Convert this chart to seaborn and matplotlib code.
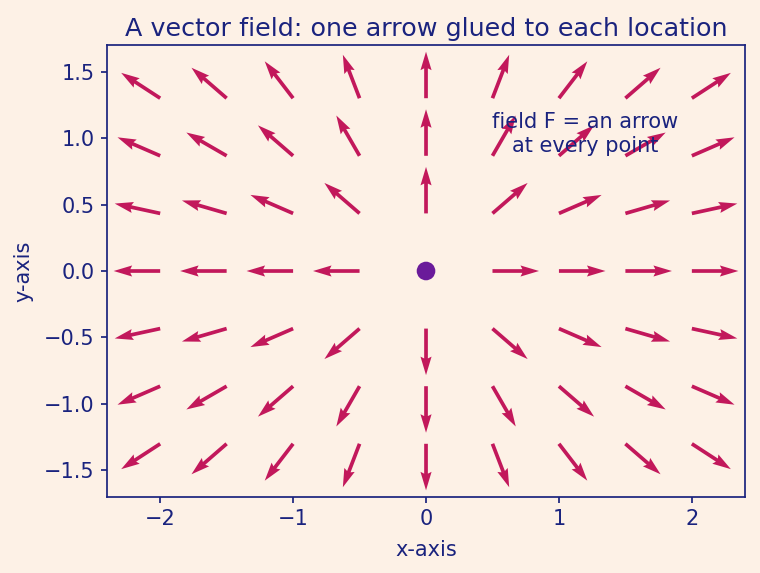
import numpy as np
import seaborn as sns
import matplotlib
matplotlib.use("Agg")
import matplotlib.pyplot as plt

# grid locations where arrows are attached
x_vals = [-2.0, -1.5, -1.0, -0.5, 0.0, 0.5, 1.0, 1.5, 2.0]
y_vals = [-1.3, -0.8667, -0.4333, 0.0, 0.4333, 0.8667, 1.3]
arrow_len = 0.35

bg = "#fdf1e6"
navy = "#1a237e"
crimson = "#c2185b"
purple = "#6a1b9a"

sns.set_theme(style="white", rc={
    "axes.facecolor": bg,
    "figure.facecolor": bg,
    "axes.edgecolor": navy,
    "axes.labelcolor": navy,
    "xtick.color": navy,
    "ytick.color": navy,
    "text.color": navy,
})
plt.rcParams["font.family"] = ["DejaVu Sans"]

X, Y = np.meshgrid(x_vals, y_vals)
R = np.hypot(X, Y)
mask = R > 0
Xp, Yp = X[mask], Y[mask]
U = Xp / R[mask] * arrow_len
V = Yp / R[mask] * arrow_len

fig, ax = plt.subplots(figsize=(6.08, 4.584), dpi=125)
ax.quiver(Xp, Yp, U, V, angles="xy", scale_units="xy", scale=1,
          color=crimson, width=0.0058, zorder=2)
sns.scatterplot(x=[0.0], y=[0.0], color=purple, s=115, edgecolor="none",
                ax=ax, zorder=3)

ax.text(1.2, 1.03, "field F = an arrow\nat every point", ha="center",
        va="center", fontsize=12, color=navy, zorder=4)

ax.set_xlim(-2.4, 2.4)
ax.set_ylim(-1.7, 1.7)
ax.set_aspect("equal")
ax.set_xticks([-2, -1, 0, 1, 2])
ax.set_yticks([-1.5, -1.0, -0.5, 0.0, 0.5, 1.0, 1.5])
ax.tick_params(axis="both", labelsize=12, length=3.5, width=1,
               bottom=True, left=True)
for sp in ax.spines.values():
    sp.set_linewidth(1)
ax.set_xlabel("x-axis", fontsize=12, labelpad=6)
ax.set_ylabel("y-axis", fontsize=12, labelpad=6)
ax.set_title("A vector field: one arrow glued to each location", fontsize=14.6,
             color=navy, pad=5)

fig.subplots_adjust(left=0.1408, right=0.9803, top=0.9215, bottom=0.1326)
plt.savefig("out.png", dpi=125, facecolor=bg)
